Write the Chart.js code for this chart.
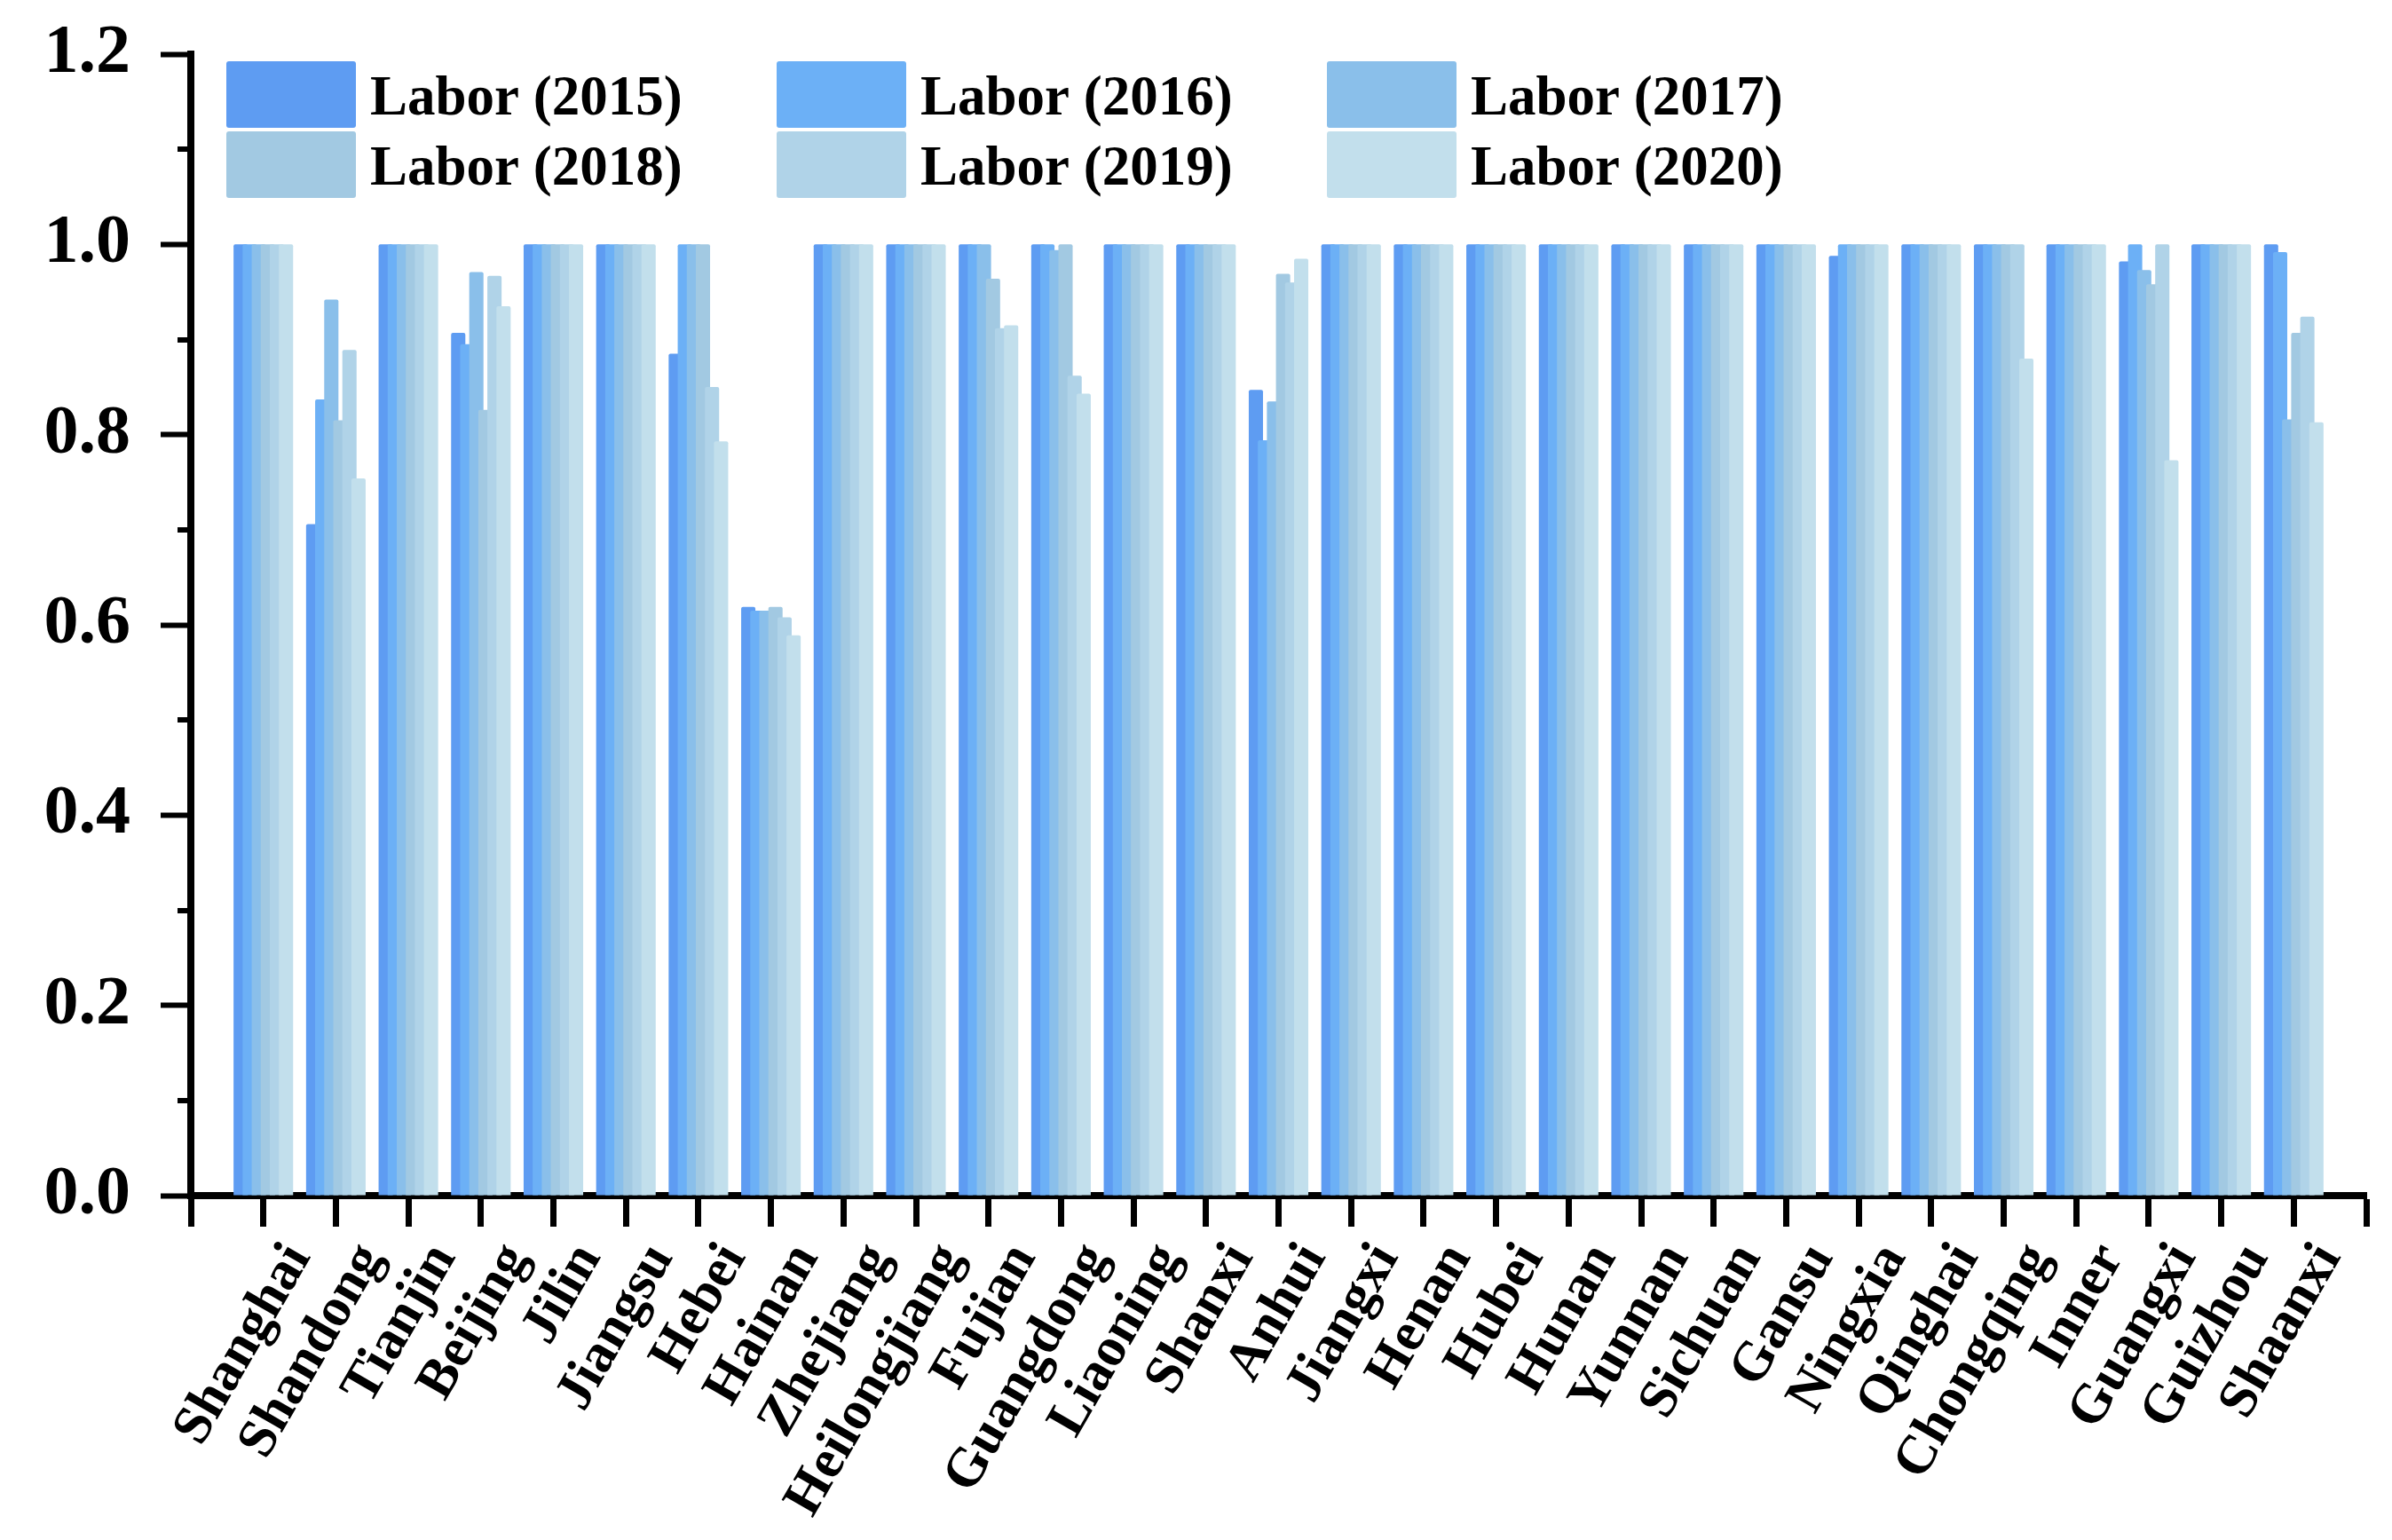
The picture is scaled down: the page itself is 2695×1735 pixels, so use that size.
<!DOCTYPE html>
<html>
<head>
<meta charset="utf-8">
<title>Labor efficiency by province</title>
<script src="https://cdn.jsdelivr.net/npm/chart.js@4.4.0/dist/chart.umd.min.js"></script>
<style>
  html, body { margin: 0; padding: 0; background: #ffffff; }
  #chart { display: block; }
</style>
</head>
<body>
<canvas id="chart" width="2695" height="1735"></canvas>
<script>
// provinces in the order they appear on the x axis
const provinces = ['Shanghai', 'Shandong', 'Tianjin', 'Beijing', 'Jilin', 'Jiangsu', 'Hebei', 'Hainan',
  'Zhejiang', 'Heilongjiang', 'Fujian', 'Guangdong', 'Liaoning', 'Shanxi', 'Anhui', 'Jiangxi', 'Henan',
  'Hubei', 'Hunan', 'Yunnan', 'Sichuan', 'Gansu', 'Ningxia', 'Qinghai', 'Chongqing', 'Inner', 'Guangxi',
  'Guizhou', 'Shaanxi'];

const seriesNames = ['Labor (2015)', 'Labor (2016)', 'Labor (2017)', 'Labor (2018)', 'Labor (2019)', 'Labor (2020)'];
const seriesColors = ['#5e9cf2', '#6cb0f6', '#8abfea', '#a2c9e2', '#b0d3e8', '#c2dfec'];

// values
const labor2015 = [1, 0.706, 1, 0.907, 1, 1, 0.885, 0.619, 1, 1, 1, 1, 1, 1, 0.847, 1, 1, 1, 1, 1, 1, 1, 0.988, 1, 1, 1, 0.982, 1, 1];
const labor2016 = [1, 0.837, 1, 0.895, 1, 1, 1, 0.615, 1, 1, 1, 1, 1, 1, 0.794, 1, 1, 1, 1, 1, 1, 1, 1, 1, 1, 1, 1, 1, 0.992];
const labor2017 = [1, 0.942, 1, 0.971, 1, 1, 1, 0.615, 1, 1, 1, 0.994, 1, 1, 0.835, 1, 1, 1, 1, 1, 1, 1, 1, 1, 1, 1, 0.973, 1, 0.816];
const labor2018 = [1, 0.815, 1, 0.826, 1, 1, 1, 0.619, 1, 1, 0.964, 1, 1, 1, 0.969, 1, 1, 1, 1, 1, 1, 1, 1, 1, 1, 1, 0.958, 1, 0.907];
const labor2019 = [1, 0.889, 1, 0.967, 1, 1, 0.850, 0.608, 1, 1, 0.912, 0.862, 1, 1, 0.960, 1, 1, 1, 1, 1, 1, 1, 1, 1, 1, 1, 1, 1, 0.924];
const labor2020 = [1, 0.754, 1, 0.935, 1, 1, 0.793, 0.589, 1, 1, 0.915, 0.843, 1, 1, 0.985, 1, 1, 1, 1, 1, 1, 1, 1, 1, 0.880, 1, 0.773, 1, 0.813];

const yMin = 0, yMax = 1.2, yStep = 0.2;

const allSeries = [labor2015, labor2016, labor2017, labor2018, labor2019, labor2020];

// the axis runs one slot past each end, so pad the categories with empty slots
const labels = ['', ...provinces, ''];
const pad = arr => [null, ...arr, null];

const serifFont = "'Liberation Serif', 'Times New Roman', serif";

// draw the bars left to right so each one overlaps the previous
const overlapOrder = {
  id: 'overlapOrder',
  beforeDatasetDraw() {
    return false;
  },
  afterDatasetsDraw(chart) {
    for (let i = 0; i < chart.data.datasets.length; i++) {
      chart.getDatasetMeta(i).controller.draw();
    }
  }
};

// short ticks halfway between the labelled y ticks
const minorTicks = {
  id: 'minorTicks',
  afterDraw(chart, args, opts) {
    const scale = chart.scales.y;
    const ctx = chart.ctx;
    const left = chart.chartArea.left;
    ctx.save();
    ctx.strokeStyle = '#000';
    ctx.lineWidth = opts.width;
    for (let i = 0; i < scale.ticks.length - 1; i++) {
      const mid = (scale.ticks[i].value + scale.ticks[i + 1].value) / 2;
      const py = Math.round(scale.getPixelForValue(mid));
      ctx.beginPath();
      ctx.moveTo(left - opts.length, py);
      ctx.lineTo(left, py);
      ctx.stroke();
    }
    ctx.restore();
  }
};

// 3 x 2 legend inside the plot, top left
const gridLegend = {
  id: 'gridLegend',
  afterDraw(chart, args, opts) {
    const ctx = chart.ctx;
    ctx.save();
    ctx.font = opts.font;
    ctx.textBaseline = 'alphabetic';
    ctx.textAlign = 'left';
    chart.data.datasets.forEach((ds, i) => {
      const col = i % opts.columns;
      const row = Math.floor(i / opts.columns);
      const x = opts.left + col * opts.colWidth;
      const y = opts.top + row * opts.rowHeight;
      ctx.fillStyle = ds.backgroundColor;
      ctx.beginPath();
      ctx.roundRect(x, y, opts.boxWidth, opts.boxHeight, 3);
      ctx.fill();
      ctx.fillStyle = '#000';
      ctx.fillText(ds.label, x + opts.boxWidth + opts.textGap, y + opts.baseline);
    });
    ctx.restore();
  }
};

const ctx = document.getElementById('chart').getContext('2d');
new Chart(ctx, {
  type: 'bar',
  data: {
    labels: labels,
    datasets: allSeries.map((values, i) => ({
      label: seriesNames[i],
      data: pad(values),
      backgroundColor: seriesColors[i],
      borderWidth: 0,
      borderRadius: 2,
      categoryPercentage: 0.75,
      barPercentage: 1.57
    }))
  },
  options: {
    responsive: false,
    devicePixelRatio: 1,
    animation: false,
    layout: { padding: { top: 61, right: 29, left: 0, bottom: 0 } },
    plugins: {
      legend: { display: false },
      tooltip: { enabled: false },
      minorTicks: { length: 15, width: 6 },
      gridLegend: {
        font: 'bold 63px ' + serifFont,
        left: 255, top: 69, columns: 3, colWidth: 620, rowHeight: 79,
        boxWidth: 146, boxHeight: 75, textGap: 16, baseline: 60
      }
    },
    scales: {
      x: {
        type: 'category',
        offset: false,
        z: 1,
        grid: {
          offset: false,
          drawOnChartArea: false,
          drawTicks: true,
          tickLength: 35,
          tickWidth: 7,
          tickColor: '#000'
        },
        border: { display: true, color: '#000', width: 8 },
        ticks: {
          autoSkip: false,
          maxRotation: 60,
          minRotation: 60,
          labelOffset: 40,
          padding: 7,
          color: '#000',
          font: { family: serifFont, weight: 'bold', size: 62 }
        },
        afterFit(scale) {
          scale.height = 388;
          scale.paddingLeft = 0;
          scale.paddingRight = 0;
        }
      },
      y: {
        min: yMin,
        max: yMax,
        z: 1,
        grid: {
          drawOnChartArea: false,
          drawTicks: true,
          tickLength: 34,
          tickWidth: 6,
          tickColor: '#000'
        },
        border: { display: true, color: '#000', width: 8 },
        ticks: {
          stepSize: yStep,
          padding: 34,
          color: '#000',
          font: { family: serifFont, weight: 'bold', size: 78 },
          callback: v => Number(v).toFixed(1)
        },
        afterFit(scale) {
          scale.width = 215;
          scale.paddingTop = 0;
          scale.paddingBottom = 0;
        }
      }
    }
  },
  plugins: [overlapOrder, minorTicks, gridLegend]
});
</script>
</body>
</html>
